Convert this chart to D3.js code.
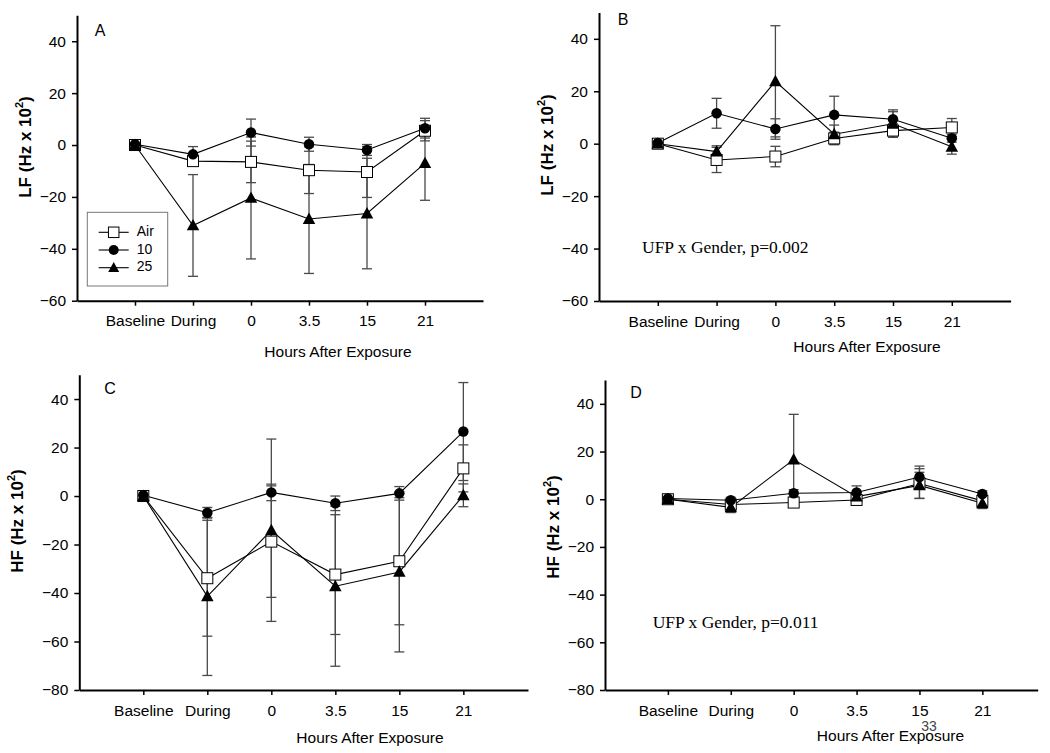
<!DOCTYPE html>
<html><head><meta charset="utf-8">
<script src="https://cdn.jsdelivr.net/npm/d3@7"></script>
<style>body{margin:0;background:#fff}svg{display:block}</style>
</head><body>
<svg id="chart" width="1050" height="753"></svg>
<script>
// ---- data ----
const categories = ["Baseline", "During", "0", "3.5", "15", "21"];
const seriesNames = ["Air", "10", "25"];

// Panel A: LF
const A_air  = [0, -6.2, -6.5, -9.7, -10.4, 5.5];
const A_air_err = [0.8, 1.5, 8.0, 9.0, 9.8, 3.9];
const A_10   = [0.3, -3.6, 4.8, 0.3, -1.9, 6.5];
const A_10_err = [0.6, 3.0, 5.2, 2.7, 2.1, 3.8];
const A_25   = [0, -31.0, -20.4, -28.5, -26.4, -7.0];
const A_25_err = [0.5, 19.6, 23.5, 21.0, 21.3, 14.3];

// Panel B: LF
const B_air  = [0, -6.2, -4.9, 2.0, 5.0, 6.2];
const B_air_err = [0.6, 4.8, 3.9, 2.4, 2.6, 3.4];
const B_10   = [0.3, 11.6, 5.6, 11.0, 9.3, 2.1];
const B_10_err = [0.5, 5.7, 3.9, 7.1, 3.6, 1.5];
const B_25   = [0, -3.0, 23.8, 3.6, 7.6, -1.2];
const B_25_err = [0.5, 2.2, 21.2, 3.5, 4.6, 2.8];

// Panel C: HF
const C_air  = [0, -33.9, -18.8, -32.4, -26.9, 11.4];
const C_air_err = [0.8, 23.9, 23.0, 24.7, 26.2, 9.7];
const C_10   = [0.3, -6.9, 1.5, -3.0, 1.1, 26.6];
const C_10_err = [0.6, 2.2, 3.4, 3.0, 2.8, 20.2];
const C_25   = [0, -41.4, -14.1, -37.2, -31.3, 0.3];
const C_25_err = [0.6, 32.6, 37.6, 33.0, 33.0, 4.7];

// Panel D: HF
const D_air  = [0, -2.2, -1.4, -0.3, 6.6, -0.7];
const D_air_err = [0.8, 1.6, 1.8, 1.6, 6.2, 1.5];
const D_10   = [0.3, -0.4, 2.5, 2.8, 9.3, 2.2];
const D_10_err = [0.5, 1.2, 1.5, 2.8, 4.6, 1.3];
const D_25   = [0, -3.4, 16.6, 1.1, 5.8, -1.7];
const D_25_err = [0.6, 2.2, 19.0, 1.8, 5.5, 2.2];

const yTicksLF = [-60, -40, -20, 0, 20, 40];
const yTicksHF = [-80, -60, -40, -20, 0, 20, 40];

// ---- layout ----
const panels = [
  {letter:"A", title:"LF", series:[[A_air,A_air_err],[A_10,A_10_err],[A_25,A_25_err]],
   yDom:[-60,50], yTicks:yTicksLF, x0:77, x1:483, xMax:7, yBot:300.7, yTop:15.3,
   tickY:322, xt:[338,353], yt:[27,147], lt:[100,32], legend:true},
  {letter:"B", title:"LF", series:[[B_air,B_air_err],[B_10,B_10_err],[B_25,B_25_err]],
   yDom:[-60,50], yTicks:yTicksLF, x0:599, x1:1010.6, xMax:7, yBot:301, yTop:12.6,
   tickY:322.7, xt:[867,347.7], yt:[549,145], lt:[623,21], note:"UFP x Gender, p=0.002", np:[642,253]},
  {letter:"C", title:"HF", series:[[C_air,C_air_err],[C_10,C_10_err],[C_25,C_25_err]],
   yDom:[-80,50], yTicks:yTicksHF, x0:79.3, x1:528, xMax:7.01, yBot:690, yTop:374.8,
   tickY:711.7, xt:[370,739], yt:[19,521], lt:[110,390]},
  {letter:"D", title:"HF", series:[[D_air,D_air_err],[D_10,D_10_err],[D_25,D_25_err]],
   yDom:[-80,50], yTicks:yTicksHF, x0:605, x1:1037.7, xMax:6.88, yBot:690, yTop:380,
   tickY:711.7, xt:[890.5,736.7], yt:[555,527], lt:[636,394], note:"UFP x Gender, p=0.011", np:[652.7,627.7]}
];

const svg = d3.select("#chart");
const FONT = "'Liberation Sans', Arial, Helvetica, sans-serif";
const SERIF = "'Liberation Serif', 'Times New Roman', serif";

function drawMarker(g, type, x, y, s) {
  if (type === 0) {
    g.append("rect").attr("x", x - s/2).attr("y", y - s/2).attr("width", s).attr("height", s)
      .attr("fill", "#fff").attr("stroke", "#000").attr("stroke-width", 1);
  } else if (type === 1) {
    g.append("circle").attr("cx", x).attr("cy", y).attr("r", s/2).attr("fill", "#000");
  } else {
    const h = s * 0.95;
    g.append("path").attr("d", `M${x},${y - h*0.6}L${x + s/2 + 0.5},${y + h*0.45}L${x - s/2 - 0.5},${y + h*0.45}Z`)
      .attr("fill", "#000");
  }
}

panels.forEach(p => {
  const g = svg.append("g");
  const x = d3.scaleLinear().domain([0, p.xMax]).range([p.x0, p.x1]);
  const y = d3.scaleLinear().domain(p.yDom).range([p.yBot, p.yTop]);

  // y axis
  const ya = g.append("g").attr("transform", `translate(${p.x0},0)`)
    .call(d3.axisLeft(y).tickValues(p.yTicks).tickSize(5).tickSizeOuter(0).tickPadding(6));
  ya.select(".domain").attr("stroke-width", 2);
  ya.selectAll(".tick line").attr("stroke-width", 1.5);
  ya.selectAll(".tick text").attr("font-family", FONT).attr("font-size", 15.5).attr("fill", "#000");

  // x axis
  const xa = g.append("g").attr("transform", `translate(0,${p.yBot})`)
    .call(d3.axisBottom(x).tickValues([1,2,3,4,5,6]).tickFormat(i => categories[i-1])
      .tickSize(5).tickSizeOuter(0).tickPadding(0));
  xa.select(".domain").attr("stroke-width", 2);
  xa.selectAll(".tick line").attr("stroke-width", 1.5);
  xa.selectAll(".tick text").attr("font-family", FONT).attr("font-size", 15.5).attr("fill", "#000")
    .attr("dy", null).attr("y", p.tickY - p.yBot).attr("dominant-baseline", "middle");

  // axis titles
  g.append("text").attr("x", p.xt[0]).attr("y", p.xt[1]).attr("text-anchor", "middle")
    .attr("dominant-baseline", "middle").attr("font-family", FONT).attr("font-size", 15.5)
    .text("Hours After Exposure");
  const yt = g.append("text").attr("transform", `translate(${p.yt[0]},${p.yt[1]}) rotate(-90)`)
    .attr("text-anchor", "middle").attr("dominant-baseline", "middle")
    .attr("font-family", FONT).attr("font-size", 17).attr("font-weight", "bold");
  yt.append("tspan").text(p.title + " (Hz x 10");
  yt.append("tspan").attr("font-size", 11).attr("dy", -7).text("2");
  yt.append("tspan").attr("dy", 7).text(")");

  g.append("text").attr("x", p.lt[0]).attr("y", p.lt[1]).attr("text-anchor", "middle")
    .attr("dominant-baseline", "middle").attr("font-family", FONT).attr("font-size", 16).text(p.letter);

  if (p.note) {
    g.append("text").attr("x", p.np[0]).attr("y", p.np[1]).attr("font-family", SERIF)
      .attr("font-size", 17.5).text(p.note);
  }

  // error bars
  const eb = g.append("g").attr("stroke", "#4a4a4a").attr("stroke-width", 1.3);
  p.series.forEach(([vals, errs]) => {
    vals.forEach((v, i) => {
      const cx = x(i + 1), yt1 = y(v + errs[i]), yb1 = y(v - errs[i]);
      eb.append("line").attr("x1", cx).attr("x2", cx).attr("y1", yt1).attr("y2", yb1);
      eb.append("line").attr("x1", cx - 5).attr("x2", cx + 5).attr("y1", yt1).attr("y2", yt1);
      eb.append("line").attr("x1", cx - 5).attr("x2", cx + 5).attr("y1", yb1).attr("y2", yb1);
    });
  });

  // lines + markers
  const line = d3.line().x((d, i) => x(i + 1)).y(d => y(d));
  p.series.forEach(([vals], si) => {
    g.append("path").attr("d", line(vals)).attr("fill", "none").attr("stroke", "#000").attr("stroke-width", 1.1);
  });
  p.series.forEach(([vals], si) => {
    const mg = g.append("g");
    vals.forEach((v, i) => drawMarker(mg, si, x(i + 1), y(v), si === 0 ? 11 : (si === 1 ? 10.5 : 11.5)));
  });

  if (p.legend) {
    const lg = g.append("g");
    lg.append("rect").attr("x", 87.3).attr("y", 212.3).attr("width", 80.4).attr("height", 73.7)
      .attr("fill", "#fff").attr("stroke", "#777").attr("stroke-width", 1);
    const ly = [232.3, 250, 267.7];
    seriesNames.forEach((n, si) => {
      lg.append("line").attr("x1", 98.7).attr("x2", 128.7).attr("y1", ly[si]).attr("y2", ly[si])
        .attr("stroke", "#000").attr("stroke-width", 1.1);
      drawMarker(lg, si, 113.7, ly[si], si === 0 ? 10.5 : 10);
      lg.append("text").attr("x", 136.7).attr("y", ly[si]).attr("dominant-baseline", "middle")
        .attr("font-family", FONT).attr("font-size", 14).text(n);
    });
  }
});

// page number overlapping axis title of panel D
svg.append("text").attr("x", 929).attr("y", 731).attr("text-anchor", "middle")
  .attr("font-family", FONT).attr("font-size", 14).attr("fill", "#444").text("33");
</script>
</body></html>
